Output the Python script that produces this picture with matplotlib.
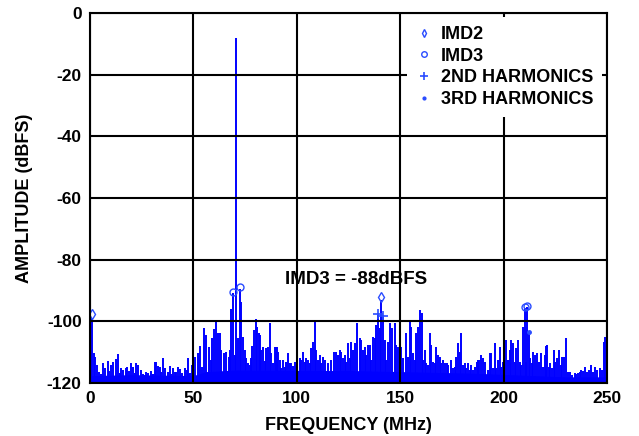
import numpy as np
import matplotlib
matplotlib.use('Agg')
from matplotlib import pyplot as plt

plt.rcParams['font.family'] = ['Liberation Sans', 'DejaVu Sans']
plt.rcParams['font.weight'] = 'bold'
plt.rcParams['axes.unicode_minus'] = False

# spectrum bins (MHz, dBFS)
freq = [0.4, 1.1, 1.9, 2.6, 3.5, 4.5, 5.4, 6.3, 7.4, 8.7, 9.3, 10.0, 11.1, 12.7, 13.5, 14.3,
        15.2, 16.0, 17.6, 18.1, 19.0, 20.0, 20.8, 21.6, 22.4, 23.2, 24.8, 25.6, 26.4, 27.2,
        28.0, 29.7, 30.5, 31.3, 32.1, 32.9, 33.7, 34.5, 35.3, 36.4, 37.7, 38.5, 39.3, 40.1,
        40.9, 41.8, 42.6, 43.4, 44.0, 44.5, 45.8, 46.9, 47.4, 47.9, 48.2, 49.3, 50.3, 50.9,
        52.2, 53.4, 54.2, 55.1, 56.3, 57.4, 58.4, 59.0, 60.0, 61.1, 61.9,
        62.7, 63.5, 64.8, 65.9, 67.1, 67.7, 68.4, 69.2, 70.0, 70.8, 71.6, 72.4, 73.2, 74.0,
        74.8, 75.6, 76.4, 77.2, 78.0, 78.5, 79.3, 80.4, 80.9, 81.6, 82.1, 82.9, 83.7, 84.5,
        85.3, 86.1, 86.9, 87.7, 88.5, 89.3, 89.8, 90.3, 90.9, 91.7, 92.5, 93.3, 94.1, 94.9,
        95.8, 96.6, 97.4, 98.2, 99.0, 99.8, 101.4, 102.2, 103.0, 103.8, 104.6, 105.4, 106.2,
        107.0, 107.8, 108.6, 109.5, 110.3, 111.1, 111.9, 112.7, 113.5, 115.1, 116.7, 118.0,
        119.1, 119.9, 120.7, 121.5, 122.4, 123.2, 124.0, 124.8, 125.6,
        126.4, 127.2, 128.0, 129.3, 130.4, 131.2, 132.1, 132.9, 133.7, 134.5, 135.3, 136.1,
        136.9, 137.7, 138.5, 139.3, 140.1, 140.9, 141.7, 142.5, 143.3, 144.1, 145.3, 146.2,
        147.4, 148.2, 149.0, 149.8, 150.6, 151.4, 153.0, 153.8, 154.6, 155.4, 156.2, 157.0,
        157.8, 158.7, 159.5, 160.3, 161.1, 161.9, 162.7, 163.5, 164.3, 165.1, 165.9, 166.7,
        167.5, 168.3, 169.1, 169.9, 170.7, 171.5, 172.4, 173.2, 174.8, 175.6, 176.4, 177.2,
        178.0, 178.8, 179.6, 180.4, 181.2, 182.0, 182.8, 183.6, 184.4, 185.2, 186.1, 186.9,
        187.7, 188.1, 189.2, 190.0, 190.8, 192.4, 193.6, 194.1, 194.9, 195.7, 196.5, 197.3,
        198.1, 198.9, 199.7, 201.3, 202.1, 202.9, 203.7, 204.5, 205.3, 206.1, 206.9, 207.8,
        208.6, 209.4, 210.2, 211.0, 211.5, 212.1, 212.9, 213.7, 214.4, 215.3, 216.3, 217.1,
        218.2, 219.0, 219.8, 220.3, 221.0, 221.8, 222.6, 223.4, 224.4, 225.0, 225.8, 226.6,
        227.6, 228.2, 229.2, 230.0, 231.1, 231.9, 233.2, 234.3, 235.2, 236.0, 236.8, 237.6,
        238.4, 239.2, 240.3, 241.3, 242.1, 243.2, 244.0, 245.3, 246.4, 247.4, 248.4, 248.9]
amp = [-110.0, -99.0, -110.2, -111.5, -114.2, -116.5, -117.0, -113.6, -115.2, -112.9, -116.0, -114.2, -113.1, -112.2, -110.6, -116.8,
       -115.2, -115.8, -115.2, -114.9, -116.2, -113.6, -114.9, -116.8, -113.4, -114.2, -115.8, -117.0, -117.4, -116.5,
       -116.9, -116.0, -117.2, -113.3, -113.3, -114.5, -114.9, -116.4, -111.9, -115.0, -116.3, -114.5, -117.0, -115.2,
       -116.3, -116.5, -114.9, -115.5, -117.3, -116.6, -115.1, -115.8, -112.0, -117.0, -116.9, -114.2, -115.5, -111.5,
       -110.2, -108.1, -114.7, -102.3, -104.4, -108.2, -112.5, -105.5, -102.6, -100.1, -103.9,
       -103.9, -109.3, -110.4, -109.8, -111.5, -109.3, -96.1, -90.8, -110.9, -8.0, -105.5, -89.4, -93.6, -105.0,
       -109.3, -112.0, -113.6, -114.2, -112.0, -108.0, -102.8, -99.4, -101.7, -103.9, -104.4, -109.3, -108.2, -112.8,
       -108.8, -108.2, -100.5, -110.4, -113.6, -108.2, -108.2, -108.4, -109.8, -112.5, -115.2, -112.5, -114.7, -113.1,
       -110.2, -113.6, -113.6, -114.5, -113.1, -114.2, -112.0, -112.5, -109.8, -113.1, -112.0, -112.5, -113.4,
       -108.8, -106.6, -99.6, -109.3, -112.5, -110.9, -113.6, -111.5, -112.5, -113.6, -112.5, -109.8,
       -109.8, -110.9, -109.3, -109.8, -112.0, -110.9, -113.1, -107.1, -112.0,
       -106.6, -109.3, -107.1, -100.6, -105.5, -106.1, -109.3, -108.2, -110.9, -107.7, -107.7, -112.5,
       -105.0, -105.5, -101.2, -97.9, -102.3, -93.0, -98.3, -106.1, -112.5, -106.6, -100.6, -102.3,
       -100.6, -107.7, -108.2, -109.3, -108.2, -112.0, -103.9, -111.5, -99.6, -101.7, -110.4, -112.5,
       -103.9, -101.7, -96.3, -97.2, -112.5, -109.3, -113.6, -114.2, -103.9, -107.7, -113.1, -113.6,
       -108.2, -110.9, -111.5, -113.6, -112.5, -113.6, -113.6, -114.2, -112.5, -115.2, -114.7, -111.5,
       -107.1, -109.8, -103.9, -114.2, -113.6, -115.2, -113.6, -115.8, -114.2, -115.8, -114.7, -113.1,
       -112.5, -112.5, -110.9, -112.0, -113.1, -115.8, -110.2, -110.4, -115.2, -107.1, -115.2, -112.5,
       -108.2, -114.7, -113.1, -106.1, -112.5, -109.3, -106.1, -107.1, -113.1, -108.8, -106.1, -113.1,
       -114.2, -101.7, -95.7, -113.1, -95.2, -103.4, -112.0, -113.6, -109.8, -110.9, -110.4, -113.1,
       -110.4, -114.7, -110.9, -108.0, -107.7, -114.7, -113.6, -115.2, -109.3, -113.1, -112.0, -109.3,
       -114.2, -111.5, -111.5, -105.5, -116.3, -116.3, -117.4, -116.9, -117.1, -116.9, -116.3, -115.8,
       -116.0, -114.7, -116.3, -115.8, -114.2, -116.3, -114.7, -115.8, -115.2, -115.8, -106.6, -105.0]

# solid noise floor level
floor_freq = [0, 20, 50, 56, 70, 130, 185, 230, 250]
floor_db = [-117.6, -117.3, -117.6, -116.3, -115.8, -116.0, -116.8, -118.0, -118.0]

# marked spurs
imd2_f = [1.1, 140.9]
imd2_a = [-97.7, -92.2]
imd3_f = [69.2, 72.4, 210.2, 211.5]
imd3_a = [-90.4, -89.0, -95.5, -95.0]
h2_f = [139.3, 141.7]
h2_a = [-97.7, -98.3]
h3_f = [212.1]
h3_a = [-103.4]

xticks = [0, 50, 100, 150, 200, 250]
yticks = [-120, -100, -80, -60, -40, -20, 0]

fig = plt.figure(figsize=(6.39, 4.36), dpi=100)
ax = fig.add_axes([90/639, 53/436, 517/639, 370/436])

ax.fill_between(floor_freq, -120, floor_db, color='blue', lw=0)
ax.vlines(freq, -120, amp, colors='blue', lw=1.4)

mc = '#2a4cff'
ax.plot(imd2_f, imd2_a, 'd', ms=5, mfc='none', mec=mc, mew=1.0, ls='none', label='IMD2')
ax.plot(imd3_f, imd3_a, 'o', ms=5, mfc='none', mec=mc, mew=1.0, ls='none', label='IMD3')
ax.plot(h2_f, h2_a, '+', ms=7, mec=mc, mew=1.2, ls='none', label='2ND HARMONICS')
ax.plot(h3_f, h3_a, '.', ms=5, color=mc, ls='none', label='3RD HARMONICS')

ax.set_xlim(0, 250)
ax.set_ylim(-120, 0)
ax.set_xticks(xticks, labels=[str(v) for v in xticks], fontsize=12.5, fontweight='bold')
ax.set_yticks(yticks, labels=[str(v) for v in yticks], fontsize=12.5, fontweight='bold')
ax.grid(True, color='black', lw=1.5)
ax.set_axisbelow(False)
ax.tick_params(length=0, pad=6)
for s in ax.spines.values():
    s.set_linewidth(1.5)

ax.set_xlabel('FREQUENCY (MHz)', fontsize=13, fontweight='bold', labelpad=8)
ax.set_ylabel('AMPLITUDE (dBFS)', fontsize=13, fontweight='bold', labelpad=10)
ax.text(94.3, -86.3, 'IMD3 = -88dBFS', fontsize=13.5, fontweight='bold', va='center')

leg = ax.legend(loc='upper right', bbox_to_anchor=(0.991, 0.989), fontsize=13,
                frameon=True, fancybox=False, framealpha=1, edgecolor='white',
                handlelength=0.8, handletextpad=0.55, labelspacing=0.26, borderpad=0.5,
                borderaxespad=0, markerscale=0.8)
leg.get_frame().set_linewidth(0)

fig.savefig('out.png', dpi=100)
